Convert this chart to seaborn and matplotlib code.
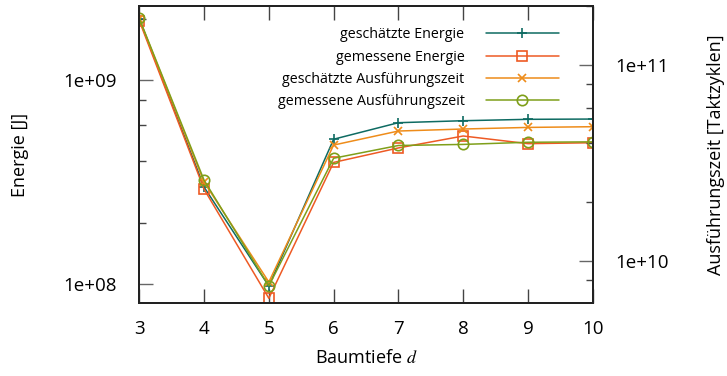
import numpy as np
import pandas as pd
import matplotlib
matplotlib.use("Agg")
import matplotlib.pyplot as plt
from matplotlib.ticker import FuncFormatter, LogLocator, NullFormatter
import seaborn as sns

# --- Daten ---
baumtiefe = [3, 4, 5, 6, 7, 8, 9, 10]
energie_geschaetzt = [1.99e9, 2.99e8, 9.8e7, 5.13e8, 6.18e8, 6.32e8, 6.42e8, 6.44e8]
energie_gemessen = [1.95e9, 2.92e8, 8.54e7, 3.95e8, 4.65e8, 5.32e8, 4.88e8, 4.93e8]
zeit_geschaetzt = [1.72e11, 2.52e10, 7.78e9, 3.90e10, 4.60e10, 4.71e10, 4.80e10, 4.84e10]
zeit_gemessen = [1.73e11, 2.58e10, 7.43e9, 3.34e10, 3.88e10, 3.93e10, 4.03e10, 4.05e10]

labels = ["geschätzte Energie", "gemessene Energie",
          "geschätzte Ausführungszeit", "gemessene Ausführungszeit"]
farben = ["#0e6b62", "#ee5a24", "#ee8c1a", "#7f9f1a"]
marker = ["+", "s", "x", "o"]

sns.set_theme(style="ticks")
plt.rcParams["font.family"] = ["Open Sans", "DejaVu Sans"]
plt.rcParams["mathtext.fontset"] = "stix"
plt.rcParams["text.color"] = "black"
plt.rcParams["axes.labelcolor"] = "black"
plt.rcParams["xtick.labelcolor"] = "black"
plt.rcParams["ytick.labelcolor"] = "black"

fig = plt.figure(figsize=(7.27, 3.76), dpi=100)
ax = fig.add_axes([139.3 / 727, 1 - 303.3 / 376, (592.7 - 139.3) / 727, (303.3 - 5.7) / 376])
ax2 = ax.twinx()

df = pd.DataFrame({"d": baumtiefe})
reihen = [(ax, energie_geschaetzt), (ax, energie_gemessen),
          (ax2, zeit_geschaetzt), (ax2, zeit_gemessen)]
handles = []
for i, (a, werte) in enumerate(reihen):
    df["wert"] = werte
    mfc = farben[i] if marker[i] in ["+", "x"] else "none"
    sns.lineplot(data=df, x="d", y="wert", ax=a, color=farben[i], linewidth=1.1,
                 marker=marker[i], markersize=7.5 if marker[i] != "x" else 6,
                 markerfacecolor=mfc, markeredgecolor=farben[i], markeredgewidth=1.2,
                 label=labels[i], legend=False)
    handles.append(a.get_lines()[-1])

for a in (ax, ax2):
    a.set_yscale("log")
ax.set_ylim(8.07e7, 2.311e9)
ax2.set_ylim(6.06e9, 2.01e11)
ax.set_xlim(3, 10)
ax.set_xticks(baumtiefe)

fmt = FuncFormatter(lambda v, p: f"{v:.0e}")
for a in (ax, ax2):
    a.yaxis.set_major_locator(LogLocator(base=10))
    a.yaxis.set_minor_locator(LogLocator(base=10, subs=[2, 4, 6, 8]))
    a.yaxis.set_major_formatter(fmt)
    a.yaxis.set_minor_formatter(NullFormatter())
    for s in a.spines.values():
        s.set_linewidth(1.4)
        s.set_color("#222222")

ax.tick_params(axis="y", which="major", direction="in", length=10, width=1, color="#666666",
               pad=16, labelsize=13.5, left=True, right=False)
ax.tick_params(axis="y", which="minor", direction="in", length=5, width=1, color="#444444",
               left=True, right=False)
ax.tick_params(axis="x", which="major", direction="in", length=10, width=1, color="#444444",
               pad=12, labelsize=13.5, top=True, bottom=True)
ax2.tick_params(axis="y", which="major", direction="in", length=10, width=1, color="#666666",
                pad=16, labelsize=13.5, right=True, left=False)
ax2.tick_params(axis="y", which="minor", direction="in", length=5, width=1, color="#444444",
                right=True, left=False)

ax.set_xlabel("Baumtiefe $d$", fontsize=13, labelpad=8)
ax.set_ylabel("Energie [J]", fontsize=13, labelpad=25)
ax2.set_ylabel("Ausführungszeit [Taktzyklen]", fontsize=13, labelpad=28)

fig.legend(handles, labels, loc="upper right", bbox_to_anchor=(566 / 727, 1 - 20 / 376),
           frameon=False, markerfirst=False, fontsize=10.3, handlelength=5.1,
           handletextpad=1.5, labelspacing=0.52, borderpad=0, numpoints=1)

fig.savefig("out.png", dpi=100)
